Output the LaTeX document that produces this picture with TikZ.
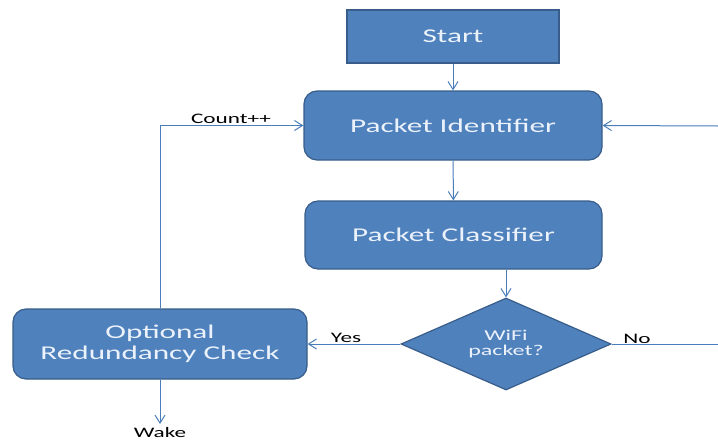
\documentclass[tikz,border=0pt]{standalone}
\usepackage{fontspec}
\setmainfont[FakeStretch=1.6]{Carlito}
\usetikzlibrary{shapes.geometric,arrows.meta}
\definecolor{boxfill}{RGB}{79,129,189}
\definecolor{boxedge}{RGB}{56,93,138}
\definecolor{linec}{RGB}{74,126,187}
\definecolor{boxtext}{RGB}{236,242,251}
\begin{document}
\begin{tikzpicture}[x=1pt,y=-1pt,
  box/.style={draw=boxedge,line width=1.2pt,fill=boxfill,text=boxtext,
    font=\fontsize{19.5}{21}\selectfont,inner sep=0pt,align=center},
  rbox/.style={box,rounded corners=13pt},
  dbox/.style={box,shape=diamond,aspect=2.28,font=\fontsize{15}{15.5}\selectfont},
  conn/.style={draw=linec,line width=1pt},
  arr/.style={conn,-{Straight Barb[length=8pt,width=10pt]}},
  lbl/.style={text=black,font=\fontsize{14.5}{16}\selectfont,inner sep=0pt}]
\useasboundingbox (0,0) rectangle (718,442);
\node[box,minimum width=212pt,minimum height=53pt] (start) at (453,36.5) {Start};
\node[rbox,minimum width=298pt,minimum height=69pt] (pi) at (453,125.5) {Packet Identifier};
\node[rbox,minimum width=297pt,minimum height=68pt] (pc) at (453.5,235) {Packet Classifier};
\node[dbox,minimum width=210pt,minimum height=92pt] (dia) at (506,344) {WiFi\\packet?};
\node[rbox,minimum width=294pt,minimum height=70pt] (orc) at (160,344) {Optional\\Redundancy Check};
\coordinate (noend) at (718,344);
\coordinate (rin) at (718,126);
\coordinate (wakept) at (160,424);
\node[lbl] (count) at (231,119) {Count++};
\node[lbl] (yes) at (346,338) {Yes};
\node[lbl] (no) at (637,339) {No};
\node[lbl] (wake) at (160,433) {Wake};
\draw[arr] (start) -- (pi);
\draw[arr] (pi) -- (pc);
\draw[arr] (pc.south -| dia.north) -- (dia.north);
\draw[arr] (dia.west) -- (orc.east);
\draw[conn] (dia.east) -- (noend);
\draw[arr] (rin) -- (pi.east);
\draw[arr] (orc.north) |- (pi.west);
\draw[arr] (orc.south) -- (wakept);
\end{tikzpicture}
\end{document}
